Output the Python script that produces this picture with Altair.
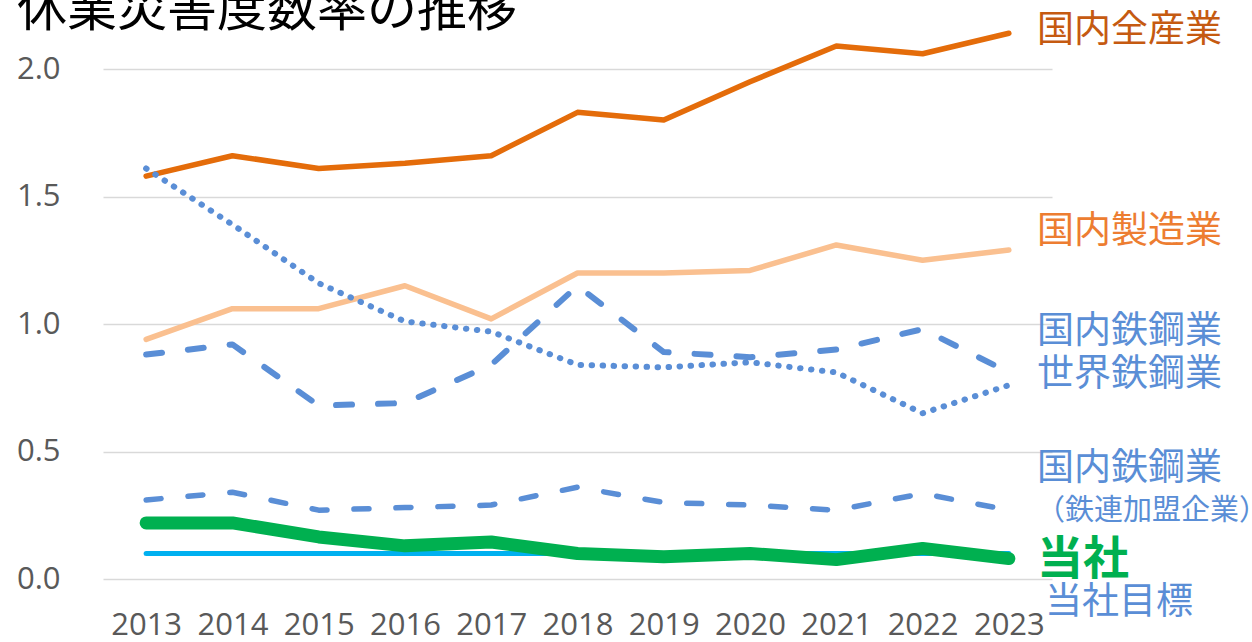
import altair as alt
import pandas as pd

years = [str(y) for y in range(2013, 2024)]

all_industry = [1.58, 1.66, 1.61, 1.63, 1.66, 1.83, 1.80, 1.95, 2.09, 2.06, 2.14]
manufacturing = [0.94, 1.06, 1.06, 1.15, 1.02, 1.20, 1.20, 1.21, 1.31, 1.25, 1.29]
steel_domestic = [0.88, 0.92, 0.68, 0.69, 0.84, 1.15, 0.89, 0.87, 0.90, 0.98, 0.81]
steel_world = [1.61, 1.39, 1.16, 1.01, 0.97, 0.84, 0.83, 0.85, 0.81, 0.65, 0.76]
steel_jisf = [0.31, 0.34, 0.27, 0.28, 0.29, 0.36, 0.30, 0.29, 0.27, 0.335, 0.27]
company = [0.22, 0.22, 0.165, 0.13, 0.145, 0.10, 0.087, 0.10, 0.076, 0.12, 0.08]
company_target = [0.10] * 11

label_texts = ["国内全産業", "国内製造業", "国内鉄鋼業", "世界鉄鋼業", "国内鉄鋼業",
               "（鉄連加盟企業）", "当社", "当社目標"]
label_y = [2.15, 1.36, 0.97, 0.80, 0.43, 0.265, 0.075, -0.095]
label_colors = ["#C55A11", "#ED7D31", "#5A8ED6", "#5A8ED6", "#5A8ED6",
                "#5A8ED6", "#00B050", "#5A8ED6"]
label_sizes = [37, 37, 37, 37, 37, 29, 46, 37]
label_weights = ["normal"] * 6 + ["bold", "normal"]
label_dx = [0, 0, 0, 0, 0, -1, 0, 8]

title_text = "休業災害度数率の推移"

W, H = 949, 561
x_enc = alt.X("year:O", scale=alt.Scale(type="point", padding=0.5),
              axis=alt.Axis(title=None, labelAngle=0, grid=False, domain=False,
                            ticks=False, tickSize=0, labelPadding=31,
                            labelFont="Open Sans", labelFontSize=31,
                            labelColor="#595959"))
y_enc = alt.Y("v:Q", scale=alt.Scale(domain=[0, 2.2], nice=False, zero=False),
              axis=alt.Axis(title=None, values=[0, 0.5, 1.0, 1.5, 2.0], format=".1f",
                            domain=False, ticks=False, tickSize=0, labelPadding=43,
                            labelFont="Open Sans", labelFontSize=31,
                            labelColor="#595959", gridColor="#D9D9D9", gridWidth=1.5))


def series(vals, color, width, dash=None, cap="round"):
    df = pd.DataFrame({"year": years, "v": vals})
    kw = dict(color=color, strokeWidth=width, strokeCap=cap, strokeJoin="round")
    if dash:
        kw["strokeDash"] = dash
    return alt.Chart(df).mark_line(**kw).encode(x=x_enc, y=y_enc)


layers = [
    series(manufacturing, "#FAC090", 5.5),
    series(all_industry, "#E46C0A", 5.5),
    series(steel_domestic, "#5A8ED6", 6, dash=[16, 26]),
    series(steel_world, "#5A8ED6", 6, dash=[0.5, 10.5]),
    series(steel_jisf, "#5A8ED6", 5.5, dash=[15, 27]),
    series(company_target, "#00B0F0", 5),
    series(company, "#00B050", 13),
]

for t, yv, c, s, w, dx in zip(label_texts, label_y, label_colors, label_sizes,
                              label_weights, label_dx):
    ldf = pd.DataFrame({"t": [t], "v": [yv]})
    layers.append(
        alt.Chart(ldf).mark_text(align="left", baseline="middle", color=c, fontSize=s,
                                 fontWeight=w, font="Noto Sans CJK JP", dx=dx)
        .encode(x=alt.value(W - 15), y=alt.Y("v:Q", scale=alt.Scale(domain=[0, 2.2])),
                text="t:N")
    )

tdf = pd.DataFrame({"t": [title_text]})
layers.append(
    alt.Chart(tdf).mark_text(align="left", baseline="alphabetic", color="#000000",
                             fontSize=50, font="Noto Sans CJK JP")
    .encode(x=alt.value(-86), y=alt.value(8), text="t:N")
)

chart = alt.layer(*layers).properties(
    width=W, height=H,
    background="white",
    autosize=alt.AutoSizeParams(type="none"),
    padding={"left": 103, "top": 18, "right": 200, "bottom": 63},
).configure_view(strokeWidth=0, stroke=None)

chart.save("out.html", embed_options={"renderer": "svg", "actions": False})
